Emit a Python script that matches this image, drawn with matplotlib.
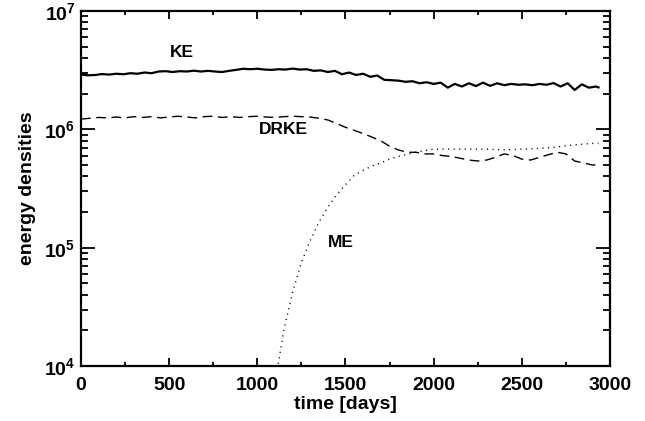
import numpy as np
import matplotlib
matplotlib.use("Agg")
import matplotlib.pyplot as plt
from matplotlib.ticker import FixedLocator, LogLocator, FuncFormatter, NullFormatter

plt.rcParams['font.family'] = ['Liberation Sans', 'DejaVu Sans']
plt.rcParams['font.weight'] = 'bold'
plt.rcParams['mathtext.fontset'] = 'custom'
plt.rcParams['mathtext.rm'] = 'Liberation Sans:bold'
plt.rcParams['mathtext.bf'] = 'Liberation Sans:bold'
plt.rcParams['mathtext.it'] = 'Liberation Sans:bold'
plt.rcParams['mathtext.default'] = 'bf'

# ---- data ----
ke_days = [0, 40, 80, 120, 160, 200, 240, 280, 320, 360, 400, 440, 480, 520, 560,
           600, 640, 680, 720, 760, 800, 840, 880, 920, 960, 1000, 1040, 1080, 1120,
           1160, 1200, 1240, 1280, 1320, 1360, 1400, 1440, 1480, 1520, 1560, 1600,
           1640, 1680, 1720, 1760, 1800, 1840, 1880, 1920, 1960, 2000, 2040, 2080,
           2120, 2160, 2200, 2240, 2280, 2320, 2360, 2400, 2440, 2480, 2520, 2560,
           2600, 2640, 2680, 2720, 2760, 2800, 2840, 2880, 2920, 2935]
ke_vals = [2.90, 2.86, 2.88, 2.93, 2.90, 2.95, 2.92, 2.98, 2.95, 3.02, 2.98, 3.08,
           3.10, 3.05, 3.10, 3.08, 3.13, 3.08, 3.12, 3.08, 3.05, 3.12, 3.18, 3.25,
           3.22, 3.25, 3.20, 3.18, 3.22, 3.20, 3.26, 3.20, 3.22, 3.12, 3.15, 3.05,
           3.12, 2.92, 3.02, 2.88, 2.95, 2.78, 2.85, 2.62, 2.60, 2.58, 2.52, 2.55,
           2.45, 2.50, 2.42, 2.48, 2.25, 2.42, 2.30, 2.45, 2.32, 2.48, 2.33, 2.45,
           2.36, 2.42, 2.38, 2.40, 2.36, 2.42, 2.38, 2.46, 2.30, 2.45, 2.15, 2.40,
           2.25, 2.30, 2.26]  # x 1e6

drke_days = [0, 50, 100, 150, 200, 250, 300, 350, 400, 450, 500, 550, 600, 650, 700,
             750, 800, 850, 900, 950, 1000, 1050, 1100, 1150, 1200, 1250, 1300, 1350,
             1400, 1450, 1500, 1550, 1600, 1650, 1700, 1750, 1800, 1850, 1900, 1950,
             2000, 2050, 2100, 2150, 2200, 2250, 2300, 2350, 2400, 2450, 2500, 2550,
             2600, 2650, 2700, 2750, 2800, 2850, 2900, 2935]
drke_vals = [1.22, 1.24, 1.26, 1.25, 1.27, 1.25, 1.28, 1.26, 1.28, 1.25, 1.27, 1.29,
             1.27, 1.25, 1.28, 1.29, 1.26, 1.28, 1.26, 1.28, 1.29, 1.27, 1.26, 1.28,
             1.29, 1.28, 1.27, 1.24, 1.2, 1.12, 1.04, 0.98, 0.92, 0.86, 0.8, 0.72,
             0.67, 0.64, 0.64, 0.62, 0.62, 0.6, 0.59, 0.57, 0.55, 0.54, 0.55, 0.58,
             0.62, 0.6, 0.56, 0.55, 0.58, 0.61, 0.64, 0.62, 0.54, 0.52, 0.5, 0.5]  # x 1e6

me_days = [1100, 1117, 1150, 1200, 1250, 1300, 1350, 1400, 1450, 1500, 1550, 1600,
           1650, 1700, 1750, 1800, 1850, 1900, 1950, 2000, 2100, 2200, 2300, 2400,
           2500, 2600, 2700, 2800, 2900, 2935]
me_vals = [0.0085, 0.01, 0.02, 0.042, 0.075, 0.115, 0.165, 0.22, 0.28, 0.34, 0.41,
           0.45, 0.49, 0.52, 0.56, 0.59, 0.615, 0.64, 0.66, 0.68, 0.68, 0.68, 0.68,
           0.67, 0.68, 0.69, 0.71, 0.74, 0.76, 0.76]  # x 1e6

labels = ["KE", "DRKE", "ME"]

fig = plt.figure(figsize=(6.45, 4.21), dpi=100)
ax = fig.add_axes([0.1256, 0.1306, 0.8201, 0.8433])

ax.plot(ke_days, np.array(ke_vals) * 1e6, color='black', lw=1.6, solid_joinstyle='round')
ax.plot(drke_days, np.array(drke_vals) * 1e6, color='black', lw=1.0, dashes=(7, 4))
ax.plot(me_days, np.array(me_vals) * 1e6, color='black', lw=1.0, dashes=(0.8, 3.2))

ax.set_yscale('log')
ax.set_xlim(0, 3000)
ax.set_ylim(1e4, 1e7)

ax.xaxis.set_major_locator(FixedLocator([0, 500, 1000, 1500, 2000, 2500, 3000]))
ax.xaxis.set_minor_locator(FixedLocator([250, 750, 1250, 1750, 2250, 2750]))
ax.yaxis.set_major_locator(LogLocator(base=10, numticks=10))
ax.yaxis.set_minor_locator(LogLocator(base=10, subs=np.arange(2, 10), numticks=20))
ax.yaxis.set_minor_formatter(NullFormatter())
ax.yaxis.set_major_formatter(FuncFormatter(lambda v, p: r'$10^{%d}$' % int(round(np.log10(v)))))

ax.tick_params(axis='both', which='both', direction='in', top=True, right=True,
               width=1.3, labelsize=14)
ax.tick_params(axis='x', which='major', length=6, pad=8)
ax.tick_params(axis='x', which='minor', length=3)
ax.tick_params(axis='y', which='major', length=10, pad=4)
ax.tick_params(axis='y', which='minor', length=5)
for s in ax.spines.values():
    s.set_linewidth(1.6)

ax.set_xlabel('time [days]', fontsize=14, fontweight='bold', labelpad=1)
ax.set_ylabel('energy densities', fontsize=14, fontweight='bold', labelpad=6)

ax.text(572, 4.46e6, labels[0], fontsize=12.5, fontweight='bold', ha='center', va='center')
ax.text(1146, 1.0e6, labels[1], fontsize=12.5, fontweight='bold', ha='center', va='center')
ax.text(1475, 1.11e5, labels[2], fontsize=12.5, fontweight='bold', ha='center', va='center')

fig.savefig('out.png', dpi=100)
